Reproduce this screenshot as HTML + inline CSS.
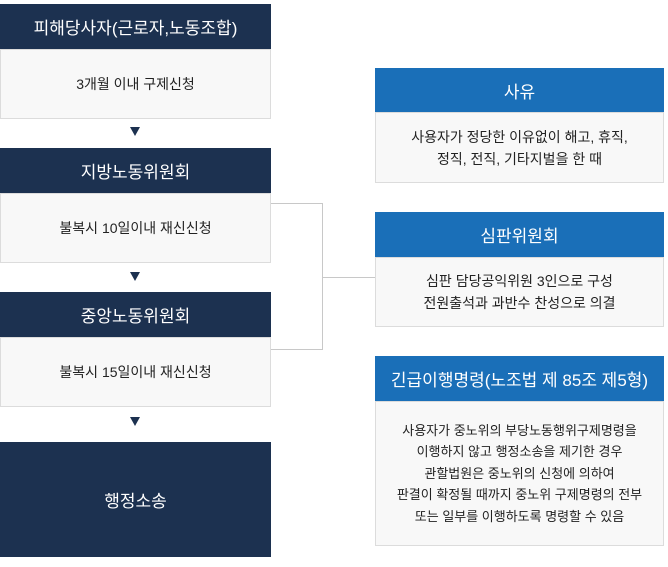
<!DOCTYPE html>
<html><head><meta charset="utf-8"><style>
*{margin:0;padding:0;box-sizing:border-box}
body{width:668px;height:567px;background:#fff;position:relative;overflow:hidden;font-family:"Liberation Sans","Noto Sans CJK KR",sans-serif}
.a{position:absolute;display:flex;align-items:center;justify-content:center;text-align:center}
.h{background:#1c3150;color:#fff;font-size:17px}
.b{background:#1a6fb8;color:#fff;font-size:17px}
.l{background:#f8f8f8;border:1px solid #dcdcdc;color:#222;font-size:14px;line-height:22px}
.t{position:absolute;width:0;height:0;border-left:5px solid transparent;border-right:5px solid transparent;border-top:9px solid #1c3150}
.ln{position:absolute;background:#c8c8c8}
</style></head><body>
<div class="a h" style="left:0;top:4px;width:271px;height:45px">피해당사자(근로자,노동조합)</div>
<div class="a l" style="left:0;top:49px;width:271px;height:70px">3개월 이내 구제신청</div>
<div class="t" style="left:130px;top:127px"></div>
<div class="a h" style="left:0;top:148px;width:271px;height:45px">지방노동위원회</div>
<div class="a l" style="left:0;top:193px;width:271px;height:70px">불복시 10일이내 재신신청</div>
<div class="t" style="left:130px;top:272px"></div>
<div class="a h" style="left:0;top:292px;width:271px;height:45px">중앙노동위원회</div>
<div class="a l" style="left:0;top:337px;width:271px;height:70px">불복시 15일이내 재신신청</div>
<div class="t" style="left:130px;top:417px"></div>
<div class="a h" style="left:0;top:442px;width:271px;height:115px">행정소송</div>
<div class="ln" style="left:271px;top:203px;width:52px;height:1px"></div>
<div class="ln" style="left:322px;top:203px;width:1px;height:147px"></div>
<div class="ln" style="left:271px;top:349px;width:52px;height:1px"></div>
<div class="ln" style="left:322px;top:277px;width:53px;height:1px"></div>
<div class="a b" style="left:375px;top:68px;width:289px;height:45px">사유</div>
<div class="a l" style="left:375px;top:112px;width:289px;height:71px">사용자가 정당한 이유없이 해고, 휴직,<br>정직, 전직, 기타지벌을 한 때</div>
<div class="a b" style="left:375px;top:212px;width:289px;height:45px">심판위원회</div>
<div class="a l" style="left:375px;top:257px;width:289px;height:70px">심판 담당공익위원 3인으로 구성<br>전원출석과 과반수 찬성으로 의결</div>
<div class="a b" style="left:375px;top:356px;width:289px;height:45px">긴급이행명령(노조법 제 85조 제5형)</div>
<div class="a l" style="left:375px;top:401px;width:289px;height:145px;line-height:21.5px;font-size:13px">사용자가 중노위의 부당노동행위구제명령을<br>이행하지 않고 행정소송을 제기한 경우<br>관할법원은 중노위의 신청에 의하여<br>판결이 확정될 때까지 중노위 구제명령의 전부<br>또는 일부를 이행하도록 명령할 수 있음</div>
</body></html>
